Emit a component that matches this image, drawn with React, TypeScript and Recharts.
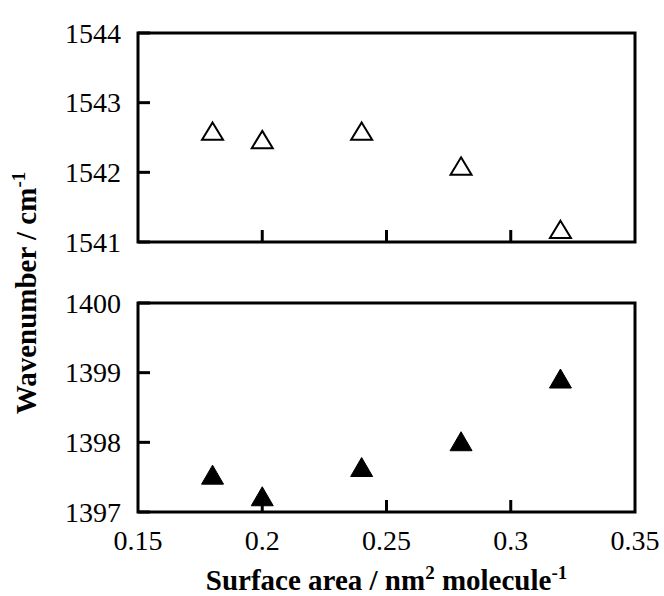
import { ScatterChart, Scatter, XAxis, YAxis, ReferenceArea, Label } from "recharts";

const surfaceArea = [0.18, 0.2, 0.24, 0.28, 0.32];
const wavenumberHigh = [1542.55, 1542.43, 1542.55, 1542.05, 1541.14];
const wavenumberLow = [1397.49, 1397.18, 1397.6, 1397.97, 1398.87];

const xTicks = [0.15, 0.2, 0.25, 0.3, 0.35];
const yTicksHigh = [1541, 1542, 1543, 1544];
const yTicksLow = [1397, 1398, 1399, 1400];

const highData = surfaceArea.map((x, i) => ({ x, y: wavenumberHigh[i] }));
const lowData = surfaceArea.map((x, i) => ({ x, y: wavenumberLow[i] }));

const FONT = "Liberation Serif";
const TICK = 12;

function OpenTriangle(props: any) {
  const { cx, cy } = props;
  return (
    <path
      d={`M${cx},${cy - 11.5} L${cx + 10.5},${cy + 5.8} L${cx - 10.5},${cy + 5.8} Z`}
      fill="#fff"
      stroke="#000"
      strokeWidth={2}
    />
  );
}

function FilledTriangle(props: any) {
  const { cx, cy } = props;
  return (
    <path
      d={`M${cx},${cy - 12.7} L${cx + 11},${cy + 6.3} L${cx - 11},${cy + 6.3} Z`}
      fill="#000"
      stroke="#000"
      strokeWidth={1}
    />
  );
}

function makeXTick(showLabel: boolean) {
  return (props: any) => {
    const { x, y, payload } = props;
    const edge = payload.value === 0.15 || payload.value === 0.35;
    return (
      <g>
        {!edge && <line x1={x} y1={y} x2={x} y2={y - TICK} stroke="#000" strokeWidth={3} />}
        {showLabel && (
          <text x={x} y={y + 38} textAnchor="middle" style={{ fontFamily: FONT, fontSize: 28 }} fill="#000">
            {payload.value}
          </text>
        )}
      </g>
    );
  };
}

function YTick(props: any) {
  const { x, y, payload } = props;
  return (
    <g>
      <line x1={x} y1={y} x2={x + TICK} y2={y} stroke="#000" strokeWidth={3} />
      <text x={x - 17} y={y} dy="0.35em" textAnchor="end" style={{ fontFamily: FONT, fontSize: 28 }} fill="#000">
        {payload.value}
      </text>
    </g>
  );
}

function XTitle(props: any) {
  const { viewBox } = props;
  const cx = viewBox.x + viewBox.width / 2;
  return (
    <text
      x={cx}
      y={viewBox.y + 78}
      textAnchor="middle"
      style={{ fontFamily: FONT, fontSize: 29, fontWeight: "bold" }}
      fill="#000"
    >
      Surface area / nm
      <tspan dy={-11} style={{ fontSize: 19 }}>2</tspan>
      <tspan dy={11}> molecule</tspan>
      <tspan dy={-11} style={{ fontSize: 19 }}>-1</tspan>
    </text>
  );
}

export default function App() {
  return (
    <div style={{ position: "absolute", left: 0, top: 0, width: 664, height: 596, background: "#fff" }}>
      <div style={{ position: "absolute", left: 0, top: 0 }}>
        <ScatterChart width={664} height={260} margin={{ top: 33, right: 29, bottom: 0, left: 0 }}>
          <XAxis
            type="number"
            dataKey="x"
            domain={[0.15, 0.35]}
            ticks={xTicks}
            height={18}
            axisLine={false}
            tickLine={false}
            tickSize={0}
            tickMargin={0}
            tick={makeXTick(false)}
            interval={0}
          />
          <YAxis
            type="number"
            dataKey="y"
            domain={[1541, 1544]}
            ticks={yTicksHigh}
            width={138}
            axisLine={false}
            tickLine={false}
            tickSize={0}
            tickMargin={0}
            tick={YTick}
            interval={0}
          />
          <ReferenceArea x1={0.15} x2={0.35} y1={1541} y2={1544} fill="none" stroke="#000" strokeWidth={3} ifOverflow="visible" />
          <Scatter data={highData} shape={OpenTriangle} isAnimationActive={false} />
        </ScatterChart>
      </div>
      <div style={{ position: "absolute", left: 0, top: 270 }}>
        <ScatterChart width={664} height={326} margin={{ top: 33, right: 29, bottom: 0, left: 0 }}>
          <XAxis
            type="number"
            dataKey="x"
            domain={[0.15, 0.35]}
            ticks={xTicks}
            height={84}
            axisLine={false}
            tickLine={false}
            tickSize={0}
            tickMargin={0}
            tick={makeXTick(true)}
            interval={0}
          >
            <Label content={XTitle} />
          </XAxis>
          <YAxis
            type="number"
            dataKey="y"
            domain={[1397, 1400]}
            ticks={yTicksLow}
            width={138}
            axisLine={false}
            tickLine={false}
            tickSize={0}
            tickMargin={0}
            tick={YTick}
            interval={0}
          />
          <ReferenceArea x1={0.15} x2={0.35} y1={1397} y2={1400} fill="none" stroke="#000" strokeWidth={3} ifOverflow="visible" />
          <Scatter data={lowData} shape={FilledTriangle} isAnimationActive={false} />
        </ScatterChart>
      </div>
      <svg width={664} height={596} style={{ position: "absolute", left: 0, top: 0, pointerEvents: "none" }}>
        <text
          transform="translate(36,293) rotate(-90)"
          textAnchor="middle"
          style={{ fontFamily: FONT, fontSize: 29, fontWeight: "bold" }}
          fill="#000"
        >
          Wavenumber / cm
          <tspan dy={-11} style={{ fontSize: 19 }}>-1</tspan>
        </text>
      </svg>
    </div>
  );
}
